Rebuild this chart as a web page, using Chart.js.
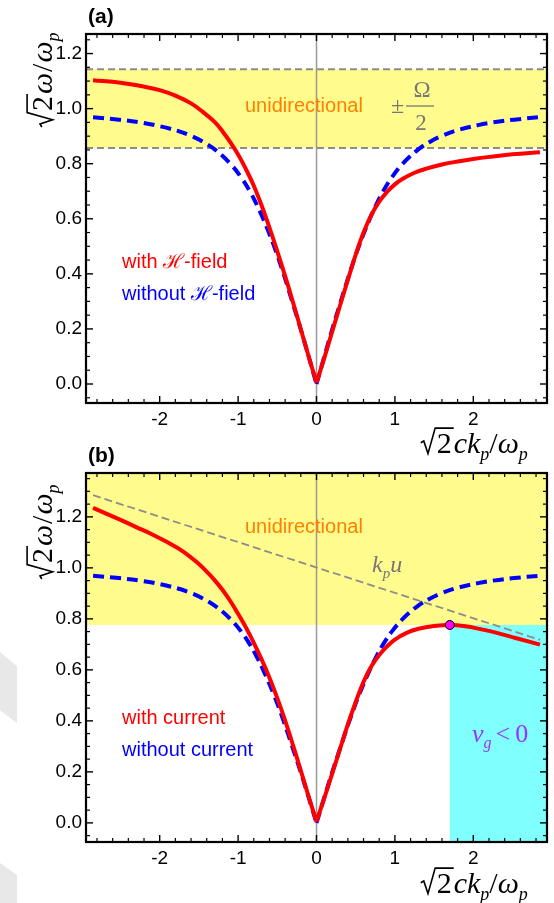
<!DOCTYPE html>
<html><head><meta charset="utf-8">
<script src="https://cdn.jsdelivr.net/npm/chart.js@4.4.0/dist/chart.umd.min.js"></script>
<style>
html,body{margin:0;padding:0;background:#fff;}
body{width:554px;height:903px;position:relative;overflow:hidden;}
canvas{position:absolute;left:0;}
#c1{top:0;}
#c2{top:440px;}
.wm{position:absolute;background:#e8e8e8;}
</style></head><body>
<div class="wm" style="left:0;top:652px;width:17px;height:71px;clip-path:polygon(0 0,100% 20%,100% 100%,0 82%)"></div>
<div class="wm" style="left:0;top:863px;width:17px;height:40px;clip-path:polygon(0 0,100% 30%,100% 100%,0 100%)"></div>
<canvas id="c1" width="554" height="470"></canvas>
<canvas id="c2" width="554" height="463"></canvas>
<script>
// ---------------- data ----------------
const kTicks = [-2, -1, 0, 1, 2];
const wTicksA = [0, 0.2, 0.4, 0.6, 0.8, 1.0, 1.2];
const wTicksB = [0, 0.2, 0.4, 0.6, 0.8, 1.0, 1.2];

// without H-field / without current (same curve in both panels)
const kBlue = [-2.85,-2.52,-2.25,-2.06,-1.78,-1.59,-1.45,-1.29,-1.10,-0.96,-0.85,-0.76,-0.68,-0.54,-0.42,-0.31,-0.2,-0.1,0,
               0.1,0.2,0.31,0.42,0.54,0.68,0.76,0.85,0.96,1.10,1.29,1.45,1.59,1.78,2.06,2.25,2.52,2.85];
const wBlue = [0.969,0.96,0.95,0.94,0.92,0.9,0.88,0.85,0.8,0.75,0.7,0.65,0.6,0.5,0.4,0.3,0.198,0.1,0,
               0.1,0.198,0.3,0.4,0.5,0.6,0.65,0.7,0.75,0.8,0.85,0.88,0.9,0.92,0.94,0.95,0.96,0.969];

// (a) with H-field
const kRedA = [-2.85,-2.5,-2.2,-2.0,-1.8,-1.6,-1.45,-1.3,-1.2,-1.1,-1.0,-0.9,-0.8,-0.7,-0.6,-0.5,-0.4,-0.3,-0.2,-0.1,0,
               0.1,0.2,0.3,0.4,0.5,0.6,0.7,0.8,0.9,1.0,1.1,1.25,1.4,1.6,1.8,2.0,2.25,2.5,2.85];
const wRedA = [1.103,1.094,1.080,1.067,1.047,1.019,0.988,0.952,0.918,0.878,0.833,0.780,0.720,0.648,0.568,0.482,0.392,0.297,0.199,0.1,0.005,
               0.095,0.19,0.285,0.378,0.47,0.55,0.614,0.662,0.698,0.725,0.745,0.767,0.782,0.797,0.808,0.817,0.826,0.834,0.842];
const bandA = [0.857, 1.143];

// (b) with current
const kRedB = [-2.85,-2.5,-2.3,-2.1,-1.9,-1.7,-1.5,-1.4,-1.3,-1.2,-1.1,-1.0,-0.9,-0.8,-0.7,-0.6,-0.5,-0.4,-0.3,-0.2,-0.1,0,
               0.1,0.2,0.3,0.4,0.5,0.6,0.7,0.8,0.9,1.0,1.15,1.3,1.5,1.7,1.9,2.1,2.3,2.55,2.85];
const wRedB = [1.235,1.188,1.160,1.132,1.100,1.064,1.015,0.985,0.952,0.914,0.870,0.820,0.766,0.706,0.641,0.569,0.489,0.401,0.305,0.205,0.103,0.005,
               0.098,0.193,0.29,0.386,0.474,0.553,0.614,0.658,0.692,0.719,0.745,0.761,0.772,0.776,0.771,0.759,0.745,0.724,0.699];
const kLine = [-2.85, 2.85];          // k_p u line
const wLine = [1.285, 0.718];
const kPeak = [1.70];
const wPeak = [0.776];
const bandB = [0.776, 1.372];
const cyanB = [1.70, 0.776];           // v_g < 0 region: k from 1.70, w up to 0.776

const X_MIN = -2.94, X_MAX = 2.94;
const YA = [-0.069, 1.271];
const YB = [-0.075, 1.372];

// ---------------- style ----------------
const SANS = '"Liberation Sans", Arial, Helvetica, sans-serif';
const SERIF = '"Liberation Serif", "Times New Roman", serif';
const YELLOW = '#fffb8c', CYAN = '#80ffff', ORANGE = '#ff8000', GRAYT = '#777777', PURPLE = '#9933ff';

function pts(k, w) { return k.map((x, i) => ({x: x, y: w[i]})); }
function branches(k, w) {
  const all = pts(k, w);
  return [all.filter(p => p.x <= 0), all.filter(p => p.x >= 0)];
}
function curveSets(k, w, style) {
  return branches(k, w).map(d => Object.assign({data: d, showLine: true, pointRadius: 0,
    tension: 0.4, fill: false}, style));
}
const redStyle = {borderColor: '#ff0000', borderWidth: 4, order: 1};
const blueStyle = {borderColor: '#0000ff', borderWidth: 4, borderDash: [11, 6], order: 2};

// ---------------- text helpers ----------------
function txt(ctx, s, x, y, font, color, align) {
  ctx.font = font; ctx.fillStyle = color; ctx.textAlign = align || 'left'; ctx.textBaseline = 'alphabetic';
  ctx.fillText(s, x, y);
}
function runWidth(ctx, segs) {
  let t = 0;
  segs.forEach(s => {
    ctx.font = s.f;
    if (s.rad) { s.w = s.size * 0.55 + ctx.measureText(s.t).width + 2; }
    else s.w = ctx.measureText(s.t).width + (s.gap || 0);
    t += s.w;
  });
  return t;
}
function drawRun(ctx, segs, x, y, color, center) {
  const total = runWidth(ctx, segs);
  let cx = center ? x - total / 2 : x;
  ctx.fillStyle = color; ctx.strokeStyle = color; ctx.textAlign = 'left'; ctx.textBaseline = 'alphabetic';
  segs.forEach(s => {
    ctx.font = s.f;
    if (s.rad) {
      const z = s.size, tw = ctx.measureText(s.t).width;
      ctx.lineWidth = 1.6; ctx.lineJoin = 'miter'; ctx.setLineDash([]);
      ctx.beginPath();
      ctx.moveTo(cx + 0.02 * z, y - 0.34 * z);
      ctx.lineTo(cx + 0.12 * z, y - 0.40 * z);
      ctx.lineTo(cx + 0.26 * z, y + 0.02 * z);
      ctx.lineTo(cx + 0.50 * z, y - 0.83 * z);
      ctx.lineTo(cx + 0.55 * z + tw + 2, y - 0.83 * z);
      ctx.stroke();
      ctx.fillText(s.t, cx + 0.55 * z, y);
    } else {
      ctx.fillText(s.t, cx + (s.pre || 0), y + (s.dy || 0));
    }
    cx += s.w;
  });
}
function yLabelSegs() {
  return [
    {rad: true, t: '2', f: '30px ' + SERIF, size: 30},
    {t: 'ω', f: 'italic 30px ' + SERIF, gap: 1},
    {t: '/', f: '30px ' + SERIF, gap: 1},
    {t: 'ω', f: 'italic 30px ' + SERIF},
    {t: 'p', f: 'italic 18px ' + SERIF, dy: 7}
  ];
}
function xLabelSegs() {
  return [
    {rad: true, t: '2', f: '30px ' + SERIF, size: 30},
    {t: 'c', f: 'italic 30px ' + SERIF},
    {t: 'k', f: 'italic 30px ' + SERIF},
    {t: 'p', f: 'italic 18px ' + SERIF, dy: 7},
    {t: '/', f: '30px ' + SERIF},
    {t: 'ω', f: 'italic 30px ' + SERIF},
    {t: 'p', f: 'italic 18px ' + SERIF, dy: 7}
  ];
}

// ---------------- decoration plugin ----------------
function makeDecor(p) {
  return {
    id: 'decor' + p.name,
    beforeDatasetsDraw(chart) {
      const {ctx, chartArea: a, scales: {x, y}} = chart;
      ctx.save();
      ctx.beginPath(); ctx.rect(a.left, a.top, a.width, a.height); ctx.clip();
      const yb0 = y.getPixelForValue(p.band[0]), yb1 = y.getPixelForValue(p.band[1]);
      ctx.fillStyle = YELLOW; ctx.fillRect(a.left, yb1, a.width, yb0 - yb1);
      if (p.cyan) {
        const xc = x.getPixelForValue(p.cyan[0]), yc = y.getPixelForValue(p.cyan[1]);
        ctx.fillStyle = CYAN; ctx.fillRect(xc, yc, a.right - xc, a.bottom - yc);
      }
      if (p.bandLines) {
        ctx.strokeStyle = '#8c8c8c'; ctx.lineWidth = 2; ctx.setLineDash([7, 4]);
        p.band.forEach(v => {
          const yy = y.getPixelForValue(v);
          ctx.beginPath(); ctx.moveTo(a.left, yy); ctx.lineTo(a.right, yy); ctx.stroke();
        });
      }
      ctx.setLineDash([]);
      const x0 = x.getPixelForValue(0);
      ctx.strokeStyle = '#9a9a9a'; ctx.lineWidth = 1.5;
      ctx.beginPath(); ctx.moveTo(x0, a.top); ctx.lineTo(x0, a.bottom); ctx.stroke();
      ctx.restore();
    },
    afterDraw(chart) {
      const {ctx, chartArea: a, scales: {x, y}} = chart;
      ctx.save();
      ctx.setLineDash([]);
      ctx.strokeStyle = '#000';
      const seg = (x1, y1, x2, y2, w) => { ctx.lineWidth = w; ctx.beginPath(); ctx.moveTo(x1, y1); ctx.lineTo(x2, y2); ctx.stroke(); };
      // x ticks (inward, bottom and top)
      for (let i = -14; i <= 14; i++) {
        const v = i * 0.2, major = (i % 5 === 0);
        const px = x.getPixelForValue(v), L = major ? 7 : 4, w = major ? 1.4 : 1.2;
        seg(px, a.bottom, px, a.bottom - L, w);
        seg(px, a.top, px, a.top + L, w);
      }
      // y ticks
      for (let i = -1; i <= 28; i++) {
        const v = i * 0.05;
        if (v < p.ymin || v > p.ymax) continue;
        const major = (i % 4 === 0);
        const py = y.getPixelForValue(v), L = major ? 7 : 4, w = major ? 1.4 : 1.2;
        seg(a.left, py, a.left + L, py, w);
        seg(a.right, py, a.right - L, py, w);
      }
      // frame
      ctx.lineWidth = 2.2;
      ctx.strokeRect(a.left, a.top, a.width, a.height);
      // texts
      p.texts(ctx);
      // axis labels
      drawRun(ctx, xLabelSegs(), 474, p.xLabelY, '#000', true);
      ctx.save();
      ctx.translate(52, p.yLabelCY);
      ctx.rotate(-Math.PI / 2);
      drawRun(ctx, yLabelSegs(), 0, 0, '#000', true);
      ctx.restore();
      ctx.restore();
    }
  };
}

function makeChart(id, p, datasets) {
  return new Chart(document.getElementById(id), {
    type: 'scatter',
    data: {datasets: datasets},
    options: {
      responsive: false, animation: false, events: [],
      layout: {padding: {top: p.padTop, right: 7, left: 0, bottom: 0}},
      plugins: {legend: {display: false}, tooltip: {enabled: false}},
      scales: {
        x: {
          type: 'linear', min: X_MIN, max: X_MAX,
          grid: {display: false, drawTicks: false}, border: {display: false},
          afterBuildTicks: s => { s.ticks = kTicks.map(v => ({value: v})); },
          afterFit: s => { s.height = p.xH; },
          ticks: {autoSkip: false, maxRotation: 0, padding: 5, color: '#000',
                  font: {family: SANS, size: 19}, callback: v => String(v)}
        },
        y: {
          type: 'linear', min: p.ymin, max: p.ymax,
          grid: {display: false, drawTicks: false}, border: {display: false},
          afterBuildTicks: s => { s.ticks = p.yTicks.map(v => ({value: v})); },
          afterFit: s => { s.width = 86; },
          ticks: {autoSkip: false, padding: 4, color: '#000',
                  font: {family: SANS, size: 19}, callback: v => Number(v).toFixed(1)}
        }
      }
    },
    plugins: [makeDecor(p)]
  });
}

// ---------------- panel (a) ----------------
const panelA = {
  name: 'A', padTop: 34, xH: 67, ymin: YA[0], ymax: YA[1], yTicks: wTicksA,
  band: bandA, bandLines: true, cyan: null, xLabelY: 453, yLabelCY: 80,
  texts: ctx => {
    txt(ctx, '(a)', 88, 23, 'bold 21px ' + SANS, '#000');
    txt(ctx, 'unidirectional', 245, 112, '20px ' + SANS, ORANGE);
    txt(ctx, '±', 391, 113, '24px ' + SERIF, GRAYT);
    txt(ctx, 'Ω', 422, 97, '23px ' + SERIF, GRAYT, 'center');
    ctx.strokeStyle = GRAYT; ctx.lineWidth = 1.3;
    ctx.beginPath(); ctx.moveTo(406, 106); ctx.lineTo(434, 106); ctx.stroke();
    txt(ctx, '2', 421, 130, '23px ' + SERIF, GRAYT, 'center');
    txt(ctx, 'with ℋ-field', 122, 268, '20px ' + SANS, '#ff0000');
    txt(ctx, 'without ℋ-field', 122, 300, '20px ' + SANS, '#0000ff');
  }
};
makeChart('c1', panelA, [].concat(
  curveSets(kRedA, wRedA, redStyle),
  curveSets(kBlue, wBlue, blueStyle)
));

// ---------------- panel (b) ----------------
const panelB = {
  name: 'B', padTop: 33, xH: 61, ymin: YB[0], ymax: YB[1], yTicks: wTicksB,
  band: bandB, bandLines: false, cyan: cyanB, xLabelY: 453, yLabelCY: 92,
  texts: ctx => {
    txt(ctx, '(b)', 88, 22, 'bold 21px ' + SANS, '#000');
    txt(ctx, 'unidirectional', 245, 93, '20px ' + SANS, ORANGE);
    drawRun(ctx, [
      {t: 'k', f: 'italic 24px ' + SERIF},
      {t: 'p', f: 'italic 15px ' + SERIF, dy: 6},
      {t: 'u', f: 'italic 24px ' + SERIF}
    ], 372, 132, GRAYT, false);
    drawRun(ctx, [
      {t: 'v', f: 'italic 26px ' + SERIF},
      {t: 'g', f: 'italic 16px ' + SERIF, dy: 6, gap: 4},
      {t: '<', f: '26px ' + SERIF, gap: 5},
      {t: '0', f: '26px ' + SERIF}
    ], 472, 302, PURPLE, false);
    txt(ctx, 'with current', 122, 284, '20px ' + SANS, '#ff0000');
    txt(ctx, 'without current', 122, 316, '20px ' + SANS, '#0000ff');
  }
};
makeChart('c2', panelB, [].concat(
  [{data: pts(kPeak, wPeak), showLine: false, pointRadius: 4.5, pointBackgroundColor: '#ff00ff',
    pointBorderColor: '#000', pointBorderWidth: 1, order: 0}],
  curveSets(kRedB, wRedB, redStyle),
  curveSets(kBlue, wBlue, blueStyle),
  [{data: pts(kLine, wLine), showLine: true, pointRadius: 0, borderColor: '#8c8c8c', borderWidth: 1.8,
    borderDash: [8, 4], order: 3}]
));
</script>
</body></html>
